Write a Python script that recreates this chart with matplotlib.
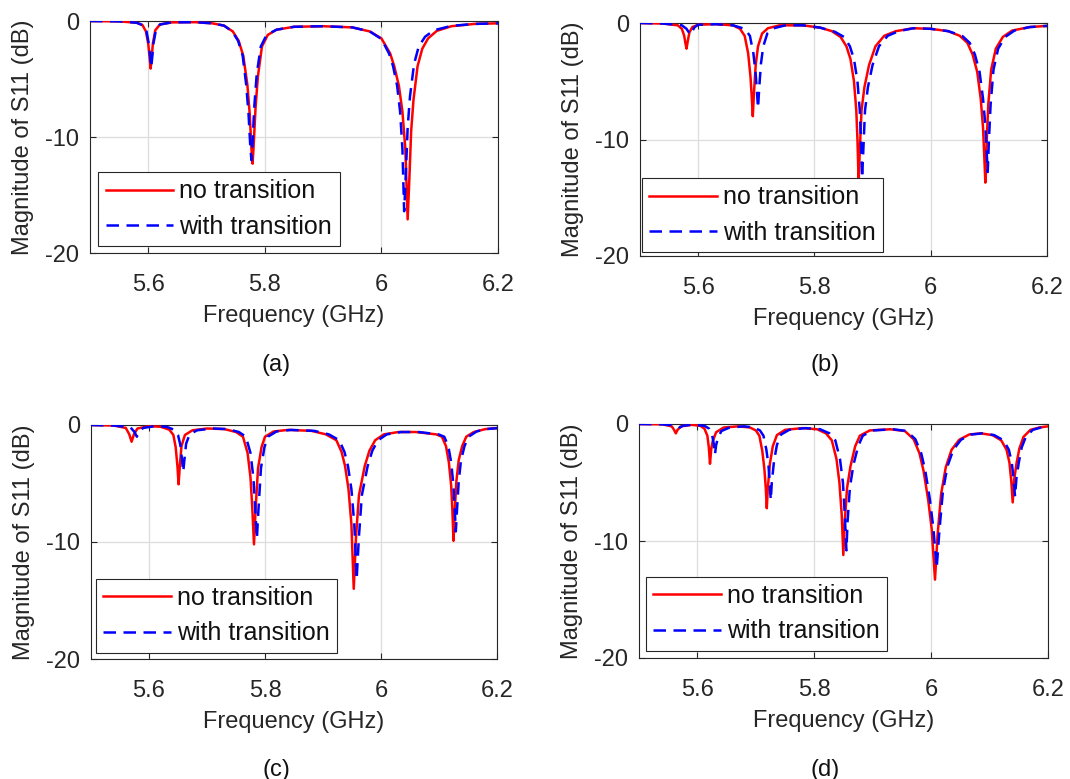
import matplotlib
matplotlib.use("Agg")
import matplotlib.pyplot as plt

plt.rcParams['font.family'] = ['Liberation Sans', 'DejaVu Sans']

# ---------------- data (frequency GHz, |S11| dB) ----------------
a_red = [(5.50, 0.0), (5.55, -0.03), (5.58, -0.15), (5.59, -0.35), (5.596, -0.9), (5.600, -2.0),
         (5.602, -3.0), (5.604, -4.1), (5.606, -3.0), (5.608, -1.9), (5.612, -0.8), (5.62, -0.3),
         (5.64, -0.12), (5.68, -0.1), (5.71, -0.2), (5.73, -0.4), (5.745, -0.9), (5.755, -1.7),
         (5.763, -3.0), (5.770, -5.5), (5.774, -8.0), (5.777, -11.0), (5.779, -12.3), (5.781, -10.5),
         (5.784, -7.5), (5.788, -4.8), (5.795, -2.2), (5.805, -1.2), (5.82, -0.75), (5.85, -0.5),
         (5.90, -0.45), (5.95, -0.55), (5.98, -0.9), (6.00, -1.5), (6.015, -2.8), (6.022, -3.9),
         (6.030, -5.6), (6.036, -7.8), (6.041, -11.0), (6.045, -17.1), (6.048, -13.5), (6.051, -9.5),
         (6.055, -6.8), (6.062, -3.9), (6.07, -2.4), (6.08, -1.5), (6.095, -0.85), (6.12, -0.45),
         (6.16, -0.25), (6.20, -0.2)]
a_blue = [(5.50, 0.0), (5.55, -0.03), (5.58, -0.15), (5.59, -0.35), (5.597, -0.9), (5.601, -2.0),
          (5.603, -3.0), (5.605, -4.0), (5.607, -3.0), (5.609, -1.9), (5.613, -0.8), (5.62, -0.3),
          (5.64, -0.12), (5.68, -0.1), (5.71, -0.2), (5.73, -0.4), (5.744, -0.9), (5.754, -1.7),
          (5.762, -3.0), (5.768, -5.5), (5.772, -8.0), (5.775, -10.8), (5.777, -12.0), (5.779, -10.3),
          (5.782, -7.3), (5.786, -4.6), (5.793, -2.2), (5.803, -1.2), (5.82, -0.75), (5.85, -0.5),
          (5.90, -0.45), (5.95, -0.55), (5.98, -0.9), (6.00, -1.55), (6.013, -2.8), (6.020, -3.9),
          (6.027, -5.6), (6.032, -7.8), (6.036, -11.0), (6.039, -16.4), (6.042, -13.0), (6.045, -9.2),
          (6.049, -6.5), (6.056, -3.7), (6.064, -2.2), (6.075, -1.35), (6.09, -0.8), (6.12, -0.42),
          (6.16, -0.25), (6.20, -0.2)]

b_red = [(5.50, 0.0), (5.54, -0.05), (5.565, -0.2), (5.572, -0.5), (5.576, -1.1), (5.578, -1.7),
         (5.580, -2.2), (5.582, -1.6), (5.585, -0.8), (5.59, -0.35), (5.60, -0.15), (5.63, -0.1),
         (5.66, -0.2), (5.672, -0.5), (5.680, -1.1), (5.686, -2.6), (5.690, -4.6), (5.692, -6.2),
         (5.694, -8.0), (5.696, -6.0), (5.699, -3.6), (5.703, -2.0), (5.710, -0.9), (5.72, -0.45),
         (5.74, -0.2), (5.78, -0.2), (5.81, -0.4), (5.83, -0.7), (5.845, -1.2), (5.855, -2.0),
         (5.862, -3.1), (5.868, -5.0), (5.872, -7.5), (5.874, -10.0), (5.876, -13.6), (5.878, -11.0),
         (5.881, -7.5), (5.886, -5.5), (5.894, -3.6), (5.905, -2.0), (5.92, -1.1), (5.94, -0.7),
         (5.97, -0.45), (6.00, -0.5), (6.03, -0.7), (6.05, -1.1), (6.063, -1.7), (6.072, -2.7),
         (6.080, -4.2), (6.086, -6.5), (6.090, -9.0), (6.092, -11.3), (6.094, -13.7), (6.096, -10.5),
         (6.099, -7.0), (6.104, -4.0), (6.112, -2.2), (6.124, -1.2), (6.14, -0.65), (6.17, -0.35),
         (6.20, -0.25)]
b_blue = [(5.50, 0.0), (5.54, -0.05), (5.572, -0.2), (5.580, -0.5), (5.584, -0.8), (5.587, -1.0),
          (5.590, -0.7), (5.594, -0.35), (5.60, -0.15), (5.63, -0.1), (5.66, -0.2), (5.68, -0.5),
          (5.689, -1.1), (5.695, -2.6), (5.699, -4.4), (5.701, -5.8), (5.703, -7.3), (5.705, -5.6),
          (5.708, -3.5), (5.712, -2.0), (5.719, -0.9), (5.73, -0.45), (5.75, -0.2), (5.78, -0.2),
          (5.81, -0.4), (5.835, -0.75), (5.851, -1.2), (5.861, -2.0), (5.868, -3.1), (5.874, -5.0),
          (5.878, -7.5), (5.880, -10.0), (5.882, -13.3), (5.884, -11.0), (5.887, -7.5), (5.892, -5.5),
          (5.90, -3.6), (5.911, -2.0), (5.926, -1.1), (5.945, -0.7), (5.97, -0.45), (6.00, -0.5),
          (6.03, -0.7), (6.054, -1.1), (6.067, -1.7), (6.076, -2.7), (6.084, -4.2), (6.090, -6.5),
          (6.094, -8.8), (6.096, -10.8), (6.098, -12.8), (6.100, -10.2), (6.103, -7.0), (6.108, -4.0),
          (6.116, -2.2), (6.128, -1.2), (6.144, -0.65), (6.17, -0.35), (6.20, -0.25)]

c_red = [(5.50, 0.0), (5.54, -0.05), (5.560, -0.25), (5.566, -0.8), (5.570, -1.43), (5.574, -0.8),
         (5.580, -0.3), (5.60, -0.1), (5.62, -0.15), (5.635, -0.4), (5.642, -0.85), (5.646, -1.9),
         (5.649, -3.5), (5.651, -5.07), (5.653, -3.6), (5.656, -1.8), (5.662, -0.85), (5.675, -0.45),
         (5.70, -0.3), (5.73, -0.35), (5.750, -0.6), (5.762, -1.0), (5.770, -2.4), (5.775, -4.5),
         (5.778, -7.0), (5.781, -10.2), (5.784, -7.0), (5.788, -3.7), (5.794, -1.9), (5.80, -1.0),
         (5.815, -0.55), (5.84, -0.42), (5.88, -0.5), (5.905, -0.8), (5.923, -1.3), (5.932, -2.3),
         (5.938, -3.5), (5.944, -5.5), (5.949, -8.5), (5.953, -14.0), (5.957, -9.5), (5.962, -6.0),
         (5.972, -3.5), (5.980, -2.2), (5.990, -1.3), (6.005, -0.8), (6.03, -0.6), (6.06, -0.6),
         (6.095, -0.8), (6.105, -1.0), (6.112, -1.8), (6.117, -3.2), (6.121, -5.2), (6.123, -7.2),
         (6.125, -9.9), (6.127, -7.5), (6.130, -4.8), (6.134, -3.0), (6.140, -1.8), (6.147, -1.0),
         (6.16, -0.6), (6.18, -0.35), (6.20, -0.27)]
c_blue = [(5.50, 0.0), (5.54, -0.05), (5.568, -0.2), (5.575, -0.6), (5.579, -1.0), (5.583, -0.6),
          (5.590, -0.25), (5.61, -0.1), (5.63, -0.15), (5.643, -0.4), (5.650, -0.85), (5.654, -1.7),
          (5.657, -3.0), (5.659, -4.0), (5.661, -3.0), (5.664, -1.6), (5.670, -0.8), (5.683, -0.45),
          (5.71, -0.3), (5.735, -0.35), (5.755, -0.6), (5.767, -1.0), (5.775, -2.4), (5.780, -4.5),
          (5.783, -7.0), (5.786, -9.7), (5.789, -7.0), (5.793, -3.7), (5.799, -1.9), (5.805, -1.0),
          (5.82, -0.55), (5.845, -0.42), (5.885, -0.5), (5.91, -0.8), (5.928, -1.3), (5.937, -2.3),
          (5.943, -3.5), (5.949, -5.5), (5.954, -8.5), (5.958, -13.2), (5.962, -9.5), (5.967, -6.0),
          (5.977, -3.5), (5.985, -2.2), (5.995, -1.3), (6.01, -0.8), (6.035, -0.6), (6.065, -0.6),
          (6.099, -0.8), (6.109, -1.0), (6.116, -1.8), (6.121, -3.2), (6.125, -5.2), (6.127, -7.0),
          (6.129, -9.1), (6.131, -7.3), (6.134, -4.8), (6.138, -3.0), (6.144, -1.8), (6.151, -1.0),
          (6.165, -0.55), (6.18, -0.35), (6.20, -0.27)]

d_red = [(5.50, 0.0), (5.54, -0.03), (5.556, -0.2), (5.560, -0.5), (5.563, -0.8), (5.566, -0.5),
         (5.572, -0.2), (5.59, -0.07), (5.605, -0.15), (5.612, -0.4), (5.617, -1.0), (5.6195, -2.0),
         (5.6215, -3.4), (5.6235, -2.2), (5.626, -1.5), (5.632, -0.7), (5.645, -0.3), (5.67, -0.2),
         (5.69, -0.3), (5.700, -0.55), (5.706, -1.0), (5.711, -2.3), (5.7145, -3.8), (5.7170, -5.5),
         (5.7187, -7.2), (5.7205, -5.5), (5.724, -3.4), (5.729, -1.9), (5.736, -0.95), (5.75, -0.5),
         (5.78, -0.35), (5.805, -0.45), (5.820, -0.8), (5.830, -1.4), (5.838, -3.0), (5.843, -5.0),
         (5.847, -7.8), (5.8497, -11.2), (5.852, -8.5), (5.856, -5.5), (5.862, -3.6), (5.870, -1.9),
         (5.878, -1.0), (5.895, -0.55), (5.93, -0.45), (5.955, -0.6), (5.970, -1.3), (5.980, -2.5),
         (5.987, -4.0), (5.995, -6.5), (6.001, -9.0), (6.0066, -13.3), (6.011, -9.5), (6.017, -6.0),
         (6.025, -3.7), (6.035, -2.2), (6.048, -1.35), (6.065, -0.9), (6.085, -0.8), (6.105, -0.95),
         (6.120, -1.4), (6.129, -2.2), (6.134, -3.3), (6.137, -4.8), (6.1396, -6.7), (6.142, -4.8),
         (6.146, -3.4), (6.151, -2.1), (6.158, -1.1), (6.17, -0.5), (6.185, -0.3), (6.20, -0.2)]
d_blue = [(5.50, 0.0), (5.54, -0.03), (5.565, -0.15), (5.570, -0.3), (5.575, -0.15), (5.59, -0.07),
          (5.612, -0.15), (5.620, -0.4), (5.625, -0.9), (5.628, -1.7), (5.630, -2.6), (5.632, -1.8),
          (5.635, -1.2), (5.641, -0.6), (5.655, -0.3), (5.68, -0.2), (5.697, -0.3), (5.707, -0.55),
          (5.713, -1.0), (5.718, -2.2), (5.7215, -3.5), (5.7238, -5.0), (5.7255, -6.5), (5.7273, -5.0),
          (5.731, -3.2), (5.736, -1.8), (5.743, -0.9), (5.757, -0.5), (5.785, -0.35), (5.81, -0.45),
          (5.826, -0.8), (5.836, -1.4), (5.844, -3.0), (5.849, -5.0), (5.852, -7.6), (5.855, -10.8),
          (5.857, -8.3), (5.861, -5.4), (5.867, -3.5), (5.875, -1.9), (5.883, -1.0), (5.90, -0.55),
          (5.935, -0.45), (5.958, -0.6), (5.973, -1.3), (5.983, -2.5), (5.990, -4.0), (5.998, -6.5),
          (6.004, -9.0), (6.0095, -12.3), (6.014, -9.2), (6.020, -5.8), (6.028, -3.6), (6.038, -2.2),
          (6.051, -1.35), (6.068, -0.9), (6.088, -0.8), (6.108, -0.95), (6.124, -1.4), (6.133, -2.2),
          (6.138, -3.3), (6.141, -4.6), (6.1436, -6.2), (6.146, -4.6), (6.150, -3.3), (6.155, -2.0),
          (6.162, -1.1), (6.174, -0.5), (6.188, -0.3), (6.20, -0.2)]

x_ticks = [5.6, 5.8, 6.0, 6.2]
x_tick_labels = ['5.6', '5.8', '6', '6.2']
y_ticks = [0, -10, -20]
y_tick_labels = ['0', '-10', '-20']
series_labels = ['no transition', 'with transition']
panel_labels = ['(a)', '(b)', '(c)', '(d)']
x_label = 'Frequency (GHz)'
y_label = 'Magnitude of S11 (dB)'

# ---------------- layout ----------------
W, H = 1070, 779
fig = plt.figure(figsize=(W / 100, H / 100), dpi=100)

# axes boxes in pixels: left, top, right, bottom
boxes = [(90, 21, 498, 253), (640, 23, 1047, 256), (91, 425, 497, 659), (639, 424, 1048, 658)]
legend_anchor = [(0.02, 0.03), (0.004, 0.017), (0.012, 0.026), (0.017, 0.03)]
panel_label_pos = [(276, 365), (825, 365), (276, 770), (825, 770)]
curves = [(a_red, a_blue), (b_red, b_blue), (c_red, c_blue), (d_red, d_blue)]

FS = 17
dark = '#262626'

for i, (box, (red, blue)) in enumerate(zip(boxes, curves)):
    l, t, r, b = box
    ax = fig.add_axes([l / W, 1 - b / H, (r - l) / W, (b - t) / H])
    xr, yr = zip(*red)
    xb, yb = zip(*blue)
    ax.plot(xr, yr, color=(1, 0, 0), lw=1.8, label=series_labels[0], zorder=3)
    ax.plot(xb, yb, color=(0, 0, 1), lw=1.8, ls=(0, (5, 3)), label=series_labels[1], zorder=4)
    ax.set_xlim(5.5, 6.2)
    ax.set_ylim(-20, 0)
    ax.set_xticks(x_ticks)
    ax.set_xticklabels(x_tick_labels)
    ax.set_yticks(y_ticks)
    ax.set_yticklabels(y_tick_labels)
    ax.grid(True, color='#dddddd', lw=0.9)
    ax.set_axisbelow(True)
    ax.tick_params(axis='both', direction='in', length=4, width=0.8, colors=dark,
                   labelsize=FS, top=True, right=True)
    ax.tick_params(axis='x', pad=15)
    ax.tick_params(axis='y', pad=8)
    for s in ax.spines.values():
        s.set_color(dark)
        s.set_linewidth(0.8)
    ax.set_xlabel(x_label, fontsize=FS, color=dark)
    ax.xaxis.set_label_coords(0.5, -(305 - 253) / (b - t))
    ax.set_ylabel(y_label, fontsize=FS, color=dark)
    ax.yaxis.set_label_coords(-56 / (r - l), 0.5)
    leg = ax.legend(loc='lower left', bbox_to_anchor=legend_anchor[i], borderaxespad=0,
                    fontsize=18, handlelength=2.7, handletextpad=0.25, labelspacing=0.45,
                    borderpad=0.3, fancybox=False, framealpha=1, edgecolor=dark)
    leg.get_frame().set_linewidth(0.8)
    for txt in leg.get_texts():
        txt.set_color('#111111')
    px, py = panel_label_pos[i]
    fig.text(px / W, 1 - py / H, panel_labels[i], fontsize=FS, ha='center', va='center', color='#111111')

fig.savefig('out.png', dpi=100)
